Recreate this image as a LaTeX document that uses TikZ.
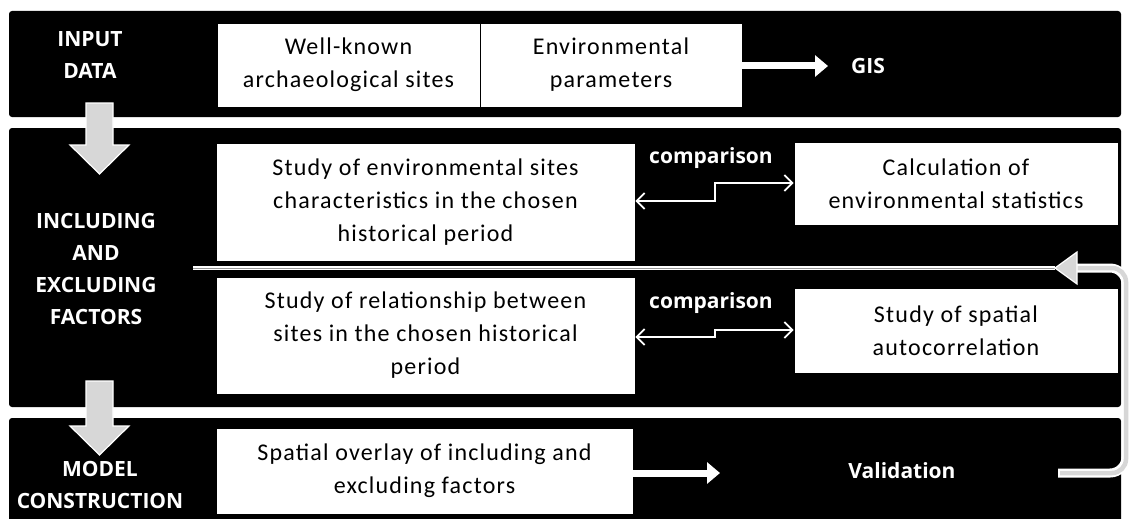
\documentclass[tikz,border=0pt]{standalone}
\usepackage{fontspec}
\setmainfont{Carlito}
\newfontfamily\boxfont[LetterSpace=5]{Carlito}
\newfontfamily\labfont{Open Sans}
\usetikzlibrary{arrows.meta}
\definecolor{arrgray}{RGB}{215,215,215}
\tikzset{
  panel/.style={fill=black, rounded corners=3pt},
  wbox/.style={draw=black, line width=0.8pt, fill=white, align=center, inner sep=0pt,
    font=\boxfont\fontsize{24}{33}\selectfont},
  lab/.style={text=white, align=center, font=\labfont\bfseries\fontsize{21}{32}\selectfont},
  cmp/.style={text=white, font=\labfont\bfseries\fontsize{21}{25}\selectfont},
  fatarrow/.style={white, line width=7pt, -{Triangle[length=13pt,width=21pt]}},
  cmparrow/.style={white, line width=1.8pt, {Straight Barb[length=8pt,width=16pt]}-{Straight Barb[length=8pt,width=16pt]}},
  blockarrow/.style={fill=arrgray, draw=white, line width=1.2pt, line join=miter},
}
\begin{document}
\begin{tikzpicture}[x=1pt,y=-1pt]
\useasboundingbox (0,0) rectangle (1135,519);
\clip (0,0) rectangle (1135,519);
\fill[white] (0,0) rectangle (1135,519);
% panels
\fill[panel] (9,11) rectangle (1121,117);
\fill[panel] (9,128) rectangle (1121,407);
\fill[panel] (9,418) rectangle (1121,540);
% section labels
\node[lab] (inlab) at (90,55) {INPUT\\DATA};
\node[lab] (inclab) at (96,269) {INCLUDING\\AND\\EXCLUDING\\FACTORS};
\node[lab] (mclab) at (100,485) {MODEL\\CONSTRUCTION};
% panel 1
\node[wbox, minimum width=263pt, minimum height=84pt] (sites) at (348.5,65) {Well-known\\archaeological sites};
\node[wbox, minimum width=262pt, minimum height=84pt] (env) at (611,65) {Environmental\\parameters};
\node[lab] (gis) at (868,66) {GIS};
\coordinate (gisarr) at (828,66);
\draw[fatarrow] (env.east |- 0,66) -- (gisarr);
% panel 2
\node[wbox, minimum width=419pt, minimum height=118pt] (studyenv) at (425.5,202) {Study of environmental sites\\characteristics in the chosen\\historical period};
\node[wbox, minimum width=324pt, minimum height=83pt] (calc) at (956,183.5) {Calculation of\\environmental statistics};
\node[wbox, minimum width=419pt, minimum height=117pt] (studyrel) at (425.5,335.5) {Study of relationship between\\sites in the chosen historical\\period};
\node[wbox, minimum width=324pt, minimum height=85pt] (spat) at (956,330.5) {Study of spatial\\autocorrelation};
\node[cmp] (cmp1) at (711,158) {comparison};
\node[cmp] (cmp2) at (711,303) {comparison};
\draw[cmparrow] (studyenv.east |- 0,201) -- (715,201) -- (715,183) -- (calc.west |- 0,183);
\draw[cmparrow] (studyrel.east |- 0,337) -- (715,337) -- (715,330) -- (spat.west |- 0,330);
% separator line
\coordinate (sepL) at (193,268);
\coordinate (fbtip) at (1055,268);
\draw[white, line width=3.5pt] (sepL) -- (fbtip);
\draw[arrgray!70!black, line width=0.8pt] (sepL) -- (fbtip);
% panel 3
\node[wbox, minimum width=417pt, minimum height=86pt] (overlay) at (424.5,471) {Spatial overlay of including and\\excluding factors};
\node[lab] (valid) at (902,471) {Validation};
\coordinate (valarr) at (720,473);
\draw[fatarrow] (overlay.east |- 0,473) -- (valarr);
% feedback arrow
\coordinate (fbstart) at (1058,473);
\draw[white, line width=9pt, rounded corners=16pt] (fbstart) -- (1126,473) -- (1126,268) -- (1072,268);
\draw[arrgray, line width=4.5pt, rounded corners=14pt] (1060,473) -- (1126,473) -- (1126,268) -- (1073,268);
\draw[blockarrow] (fbtip) -- (1077,252) -- (1077,284) -- cycle;
% gray down arrows
\draw[blockarrow] (86,103) -- (113,103) -- (113,145) -- (129,145) -- (99.5,174) -- (70,145) -- (86,145) -- cycle;
\draw[blockarrow] (86,381) -- (113,381) -- (113,426) -- (129,426) -- (99.5,455) -- (70,426) -- (86,426) -- cycle;
\end{tikzpicture}
\end{document}
